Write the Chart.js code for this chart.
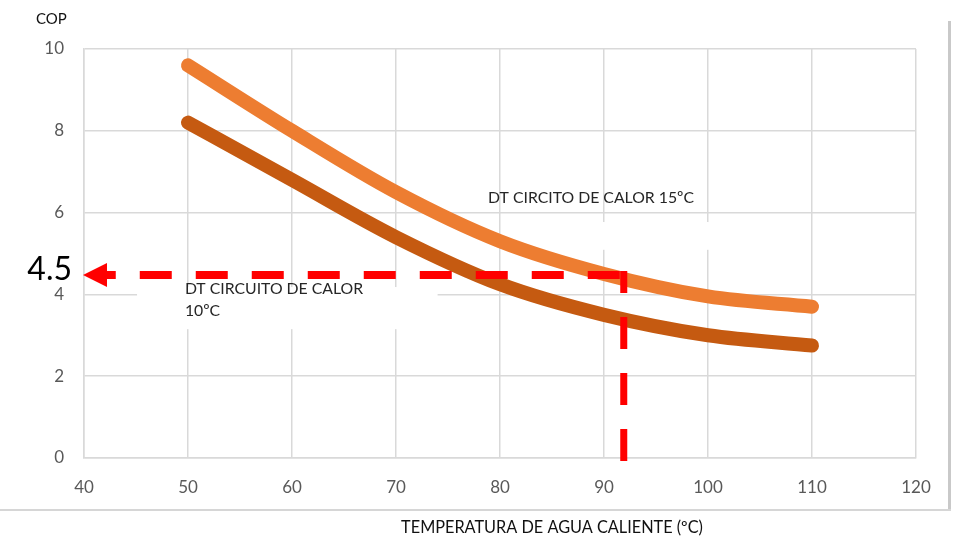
<!DOCTYPE html>
<html>
<head>
<meta charset="utf-8">
<script src="https://cdn.jsdelivr.net/npm/chart.js@4.4.1/dist/chart.umd.min.js"></script>
<style>
  html, body { margin: 0; padding: 0; background: #ffffff; }
  #wrap { width: 955px; height: 538px; position: relative; }
</style>
</head>
<body>
<div id="wrap"><canvas id="c" width="955" height="538"></canvas></div>
<script>
// ---- data ----
const temps = [50, 60, 70, 80, 90, 100, 110];
const cop15 = [9.6, 8.0, 6.5, 5.3, 4.5, 3.95, 3.7];
const cop10 = [8.2, 6.8, 5.4, 4.25, 3.5, 3.0, 2.75];
const xTicks = [40, 50, 60, 70, 80, 90, 100, 110, 120];
const yTicks = [0, 2, 4, 6, 8, 10];
const seriesNames = ['DT CIRCITO DE CALOR 15ºC', 'DT CIRCUITO DE CALOR 10ºC'];
const label15 = 'DT CIRCITO DE CALOR 15ºC';
const label10 = ['DT CIRCUITO DE CALOR', '10ºC'];
const yAxisTitle = 'COP';
const xAxisTitle = 'TEMPERATURA DE AGUA CALIENTE (ºC)';
const refTemp = 91.9;   // marked operating point
const refCop = 4.5;
const refLabel = '4.5';

const FONT = 'Lato, "Open Sans", sans-serif';
const GRID = '#d9d9d9';

const overlay = {
  id: 'overlay',
  beforeDatasetsDraw(chart) {
    const { ctx, scales: { x, y } } = chart;
    ctx.save();
    ctx.fillStyle = '#ffffff';
    // label backgrounds hiding gridlines
    ctx.fillRect(x.getPixelForValue(45.1), y.getPixelForValue(4.18),
                 x.getPixelForValue(74.0) - x.getPixelForValue(45.1),
                 y.getPixelForValue(3.15) - y.getPixelForValue(4.18));
    ctx.fillRect(x.getPixelForValue(80.5), y.getPixelForValue(5.77),
                 x.getPixelForValue(108.8) - x.getPixelForValue(80.5),
                 y.getPixelForValue(5.09) - y.getPixelForValue(5.77));
    ctx.restore();
  },
  afterDatasetsDraw(chart) {
    const { ctx, chartArea, scales: { x, y } } = chart;
    const xv = x.getPixelForValue(refTemp);
    const yv = y.getPixelForValue(refCop) + 1;
    const x0 = x.getPixelForValue(40);
    const yb = y.getPixelForValue(0);
    ctx.save();
    ctx.strokeStyle = '#ff0000';
    ctx.fillStyle = '#ff0000';
    ctx.lineCap = 'butt';
    ctx.setLineDash([32, 24]);
    // vertical dashed
    ctx.lineWidth = 7;
    ctx.beginPath();
    ctx.moveTo(xv, yb + 3);
    ctx.lineTo(xv, yv - 4);
    ctx.stroke();
    // horizontal dashed
    ctx.lineWidth = 8;
    ctx.beginPath();
    ctx.moveTo(xv - 4, yv);
    ctx.lineTo(x0 + 18, yv);
    ctx.stroke();
    ctx.setLineDash([]);
    // arrow head
    ctx.beginPath();
    ctx.moveTo(x0 - 1, yv);
    ctx.lineTo(x0 + 23, yv - 12);
    ctx.lineTo(x0 + 23, yv + 12);
    ctx.closePath();
    ctx.fill();

    // texts
    ctx.fillStyle = '#262626';
    ctx.textBaseline = 'middle';
    ctx.textAlign = 'left';
    ctx.font = '15.8px ' + FONT;
    ctx.fillText(label15, x.getPixelForValue(78.85), y.getPixelForValue(6.36));
    ctx.fillText(label10[0], x.getPixelForValue(49.7), y.getPixelForValue(4.13));
    ctx.fillText(label10[1], x.getPixelForValue(49.7), y.getPixelForValue(3.59));

    ctx.fillStyle = '#000000';
    ctx.font = '32px ' + FONT;
    ctx.textAlign = 'right';
    ctx.fillText(refLabel, x0 - 12, yv - 5);

    ctx.font = '15px ' + FONT;
    ctx.textAlign = 'left';
    ctx.fillStyle = '#111111';
    ctx.fillText(yAxisTitle, chartArea.left - 48, chartArea.top - 30);

    ctx.font = '16.3px ' + FONT;
    ctx.textAlign = 'center';
    ctx.fillText(xAxisTitle, x.getPixelForValue(85), chart.height - 10);
    ctx.restore();
  },
  afterDraw(chart) {
    const { ctx } = chart;
    ctx.save();
    ctx.fillStyle = '#c9c9c9';
    ctx.fillRect(948, 21, 3, 489);
    ctx.fillStyle = '#d6d6d6';
    ctx.fillRect(0, 509, 951, 2);
    ctx.restore();
  }
};

new Chart(document.getElementById('c'), {
  type: 'line',
  data: {
    datasets: [
      {
        label: seriesNames[0],
        data: temps.map((t, i) => ({ x: t, y: cop15[i] })),
        borderColor: '#ED7D31',
        borderWidth: 14,
        borderCapStyle: 'round',
        borderJoinStyle: 'round',
        pointRadius: 0,
        cubicInterpolationMode: 'monotone',
        fill: false
      },
      {
        label: seriesNames[1],
        data: temps.map((t, i) => ({ x: t, y: cop10[i] })),
        borderColor: '#C55A11',
        borderWidth: 14,
        borderCapStyle: 'round',
        borderJoinStyle: 'round',
        pointRadius: 0,
        cubicInterpolationMode: 'monotone',
        fill: false
      }
    ]
  },
  options: {
    responsive: false,
    devicePixelRatio: 1,
    animation: false,
    layout: { padding: { top: 49, right: 39, bottom: 0, left: 0 } },
    plugins: { legend: { display: false }, tooltip: { enabled: false } },
    scales: {
      x: {
        type: 'linear',
        min: xTicks[0],
        max: xTicks[xTicks.length - 1],
        afterBuildTicks(scale) { scale.ticks = xTicks.map(v => ({ value: v })); },
        afterFit(scale) { scale.height = 80; },
        grid: { color: GRID, lineWidth: 1.5, drawTicks: false },
        border: { color: GRID, width: 1.5 },
        ticks: { color: '#595959', font: { family: FONT, size: 17 }, padding: 19, maxRotation: 0 }
      },
      y: {
        min: yTicks[0],
        max: yTicks[yTicks.length - 1],
        afterBuildTicks(scale) { scale.ticks = yTicks.map(v => ({ value: v })); },
        afterFit(scale) { scale.width = 84; },
        grid: { color: GRID, lineWidth: 1.5, drawTicks: false },
        border: { color: GRID, width: 1.5 },
        ticks: { color: '#595959', font: { family: FONT, size: 17 }, padding: 20 }
      }
    }
  },
  plugins: [overlay]
});
</script>
</body>
</html>
